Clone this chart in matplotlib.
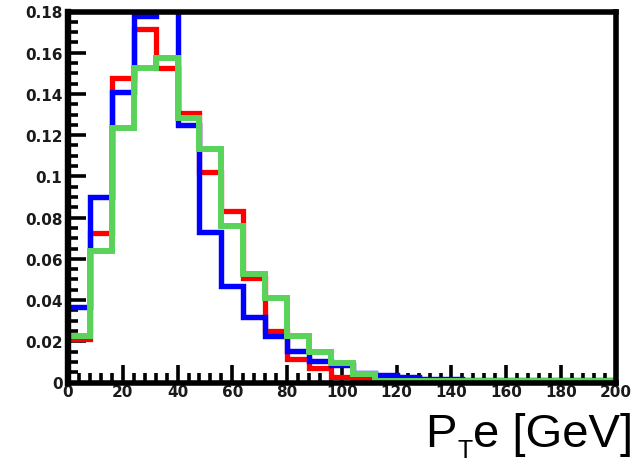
import matplotlib
matplotlib.use("Agg")
import matplotlib.pyplot as plt
import numpy as np

# Histogram binning: 25 bins of 8 GeV from 0 to 200 GeV
bin_edges = np.linspace(0, 200, 26)

# Normalised electron pT distributions (per bin)
red_values = [0.0212, 0.0726, 0.1478, 0.1716, 0.1527, 0.1309, 0.1020, 0.0831,
              0.0505, 0.0248, 0.0115, 0.0072, 0.0027, 0.0018, 0.0008, 0.0004,
              0.0002, 0.0001, 0.0, 0.0, 0.0, 0.0, 0.0, 0.0, 0.0]
blue_values = [0.0364, 0.0898, 0.1410, 0.1776, 0.1900, 0.1250, 0.0730, 0.0467,
               0.0320, 0.0225, 0.0152, 0.0103, 0.0083, 0.0046, 0.0035, 0.0026,
               0.0017, 0.0015, 0.0013, 0.0010, 0.0010, 0.0010, 0.0010, 0.0010,
               0.0010]
green_values = [0.0228, 0.0637, 0.1236, 0.1527, 0.1575, 0.1284, 0.1134, 0.0759,
                0.0527, 0.0411, 0.0228, 0.0150, 0.0093, 0.0041, 0.0006, 0.0005,
                0.0005, 0.0005, 0.0005, 0.0005, 0.0005, 0.0005, 0.0005, 0.0005,
                0.0005]

xtick_values = [0, 20, 40, 60, 80, 100, 120, 140, 160, 180, 200]
xtick_labels = ["0", "20", "40", "60", "80", "100", "120", "140", "160", "180", "200"]
ytick_values = [0, 0.02, 0.04, 0.06, 0.08, 0.10, 0.12, 0.14, 0.16, 0.18]
ytick_labels = ["0", "0.02", "0.04", "0.06", "0.08", "0.1", "0.12", "0.14", "0.16", "0.18"]

W, H = 642, 464
fig = plt.figure(figsize=(W / 100, H / 100), dpi=100)
ax = fig.add_axes([68 / W, 1 - 383.5 / H, (615.8 - 68) / W, (383.5 - 12.5) / H])

ax.stairs(red_values, bin_edges, baseline=None, color="#ff0000", linewidth=3.8, zorder=2)
ax.stairs(blue_values, bin_edges, baseline=None, color="#0000ff", linewidth=3.9, zorder=2.1)
ax.stairs(green_values, bin_edges, baseline=None, color="#5ad35a", linewidth=4.3, zorder=2.2)

ax.set_xlim(0, 200)
ax.set_ylim(0, 0.18)

ax.set_xticks(xtick_values)
ax.set_xticklabels(xtick_labels)
ax.set_yticks(ytick_values)
ax.set_yticklabels(ytick_labels)
ax.xaxis.set_minor_locator(matplotlib.ticker.MultipleLocator(4))
ax.yaxis.set_minor_locator(matplotlib.ticker.MultipleLocator(0.005))

ax.tick_params(which="both", direction="in", top=False, right=False,
               color="black", width=2.6)
ax.tick_params(which="major", length=13)
ax.tick_params(which="minor", length=7)
ax.tick_params(axis="x", which="major", pad=1)
ax.tick_params(axis="y", which="major", pad=4)

for lab in ax.get_xticklabels() + ax.get_yticklabels():
    lab.set_fontfamily("DejaVu Sans")
    lab.set_fontweight("bold")
    lab.set_fontsize(11)
    lab.set_color("#1a1a1a")

for side, sp in ax.spines.items():
    sp.set_linewidth(4.0)
    sp.set_color("black")
    sp.set_capstyle("projecting")
    sp.set_zorder(3)
ax.spines["left"].set_linewidth(4.6)

# Axis title: P with a subscript T, then "e [GeV]"
title_font = "Liberation Sans"
fig.text(425 / W, 1 - 447 / H, "P", fontsize=34, family=title_font,
         ha="left", va="baseline")
fig.text(457 / W, 1 - 458 / H, "T", fontsize=18, family=title_font,
         ha="left", va="baseline")
fig.text(473 / W, 1 - 447 / H, "e [GeV]", fontsize=34, family=title_font,
         ha="left", va="baseline")

fig.savefig("out.png", dpi=100)
